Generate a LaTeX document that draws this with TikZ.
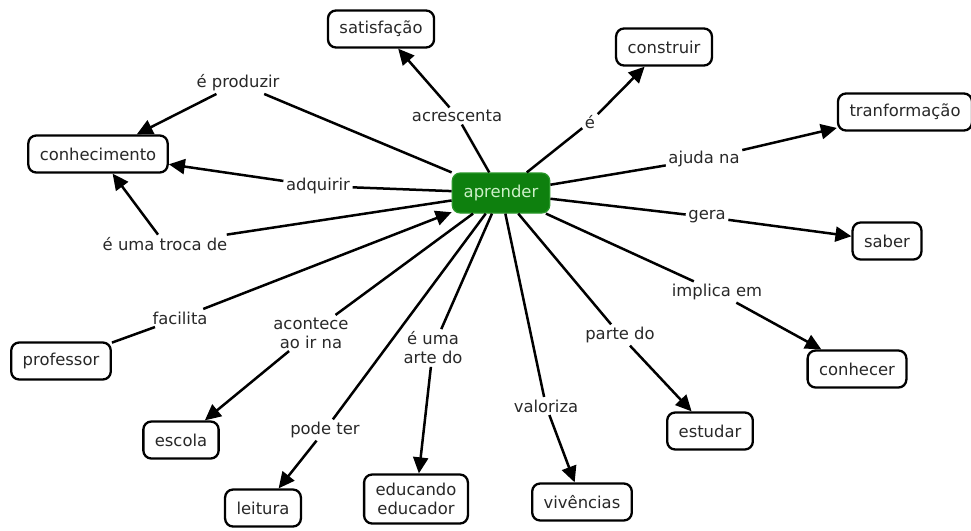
\documentclass[tikz,border=0pt]{standalone}
\usepackage{fontspec}
\setmainfont{DejaVu Sans}
\usepackage{xcolor}
\usepackage{tikz}
\usetikzlibrary{arrows.meta}

\definecolor{inkgray}{RGB}{40,40,40}
\definecolor{mapgreen}{RGB}{14,128,14}
\definecolor{mapgreenline}{RGB}{40,150,40}
\definecolor{maptext}{RGB}{205,240,200}

\begin{document}
\begin{tikzpicture}[
    x=1pt, y=-1pt,
    >={Triangle[length=16pt,width=15pt]},
    every node/.style={font=\fontsize{16.4}{19}\selectfont, text=inkgray},
    concept/.style={draw=black, line width=2.3pt, rounded corners=8pt,
        fill=white, inner xsep=11.5pt, minimum height=37pt, align=center},
    focus/.style={concept, draw=mapgreenline, fill=mapgreen, text=maptext,
        minimum height=40pt, line width=1.2pt},
    link/.style={inner sep=2.5pt, align=center},
    conn/.style={line width=2.5pt}
]
\useasboundingbox (0,0) rectangle (971,530);

% Central concept
\node[focus] (aprender) at (501,193) {aprender};

% Concepts
\node[concept] (satisfacao)   at (381,29)  {satisfação};
\node[concept] (construir)    at (664,47)  {construir};
\node[concept] (tranformacao) at (905,112) {tranformação};
\node[concept] (conhecimento) at (98,154)  {conhecimento};
\node[concept] (saber)        at (887,241) {saber};
\node[concept] (professor)    at (61,361)  {professor};
\node[concept] (conhecer)     at (857,369) {conhecer};
\node[concept] (escola)       at (181,440) {escola};
\node[concept] (estudar)      at (710,431) {estudar};
\node[concept] (leitura)      at (263,508) {leitura};
\node[concept, minimum height=49pt] (educando) at (416,499) {educando\\educador};
\node[concept] (vivencias)    at (582,502) {vivências};

% Linking phrases
\node[link] (produzir)  at (238,83)  {é produzir};
\node[link] (acresc)    at (457,116) {acrescenta};
\node[link] (ee)        at (590,122) {é};
\node[link] (ajuda)     at (704,159) {ajuda na};
\node[link] (adquirir)  at (318,186) {adquirir};
\node[link] (gera)      at (707,217) {gera};
\node[link] (troca)     at (165,244) {é uma troca de};
\node[link] (implica)   at (717,292) {implica em};
\node[link] (facilita)  at (180,318) {facilita};
\node[link] (acontece)  at (311,333) {acontece\\ao ir na};
\node[link] (arte)      at (433,348) {é uma\\arte do};
\node[link] (parte)     at (620,335) {parte do};
\node[link] (valoriza)  at (546,406) {valoriza};
\node[link] (podeter)   at (325,430) {pode ter};

% Connections
\draw[conn] (aprender) -- (produzir);
\draw[conn,->] (produzir) -- (conhecimento);
\draw[conn] (aprender) -- (acresc);
\draw[conn,->] (acresc) -- (satisfacao);
\draw[conn] (aprender) -- (ee);
\draw[conn,->] (ee) -- (construir);
\draw[conn] (aprender) -- (ajuda);
\draw[conn,->] (ajuda) -- (tranformacao);
\draw[conn] (aprender) -- (adquirir);
\draw[conn,->] (adquirir) -- (conhecimento);
\draw[conn] (aprender) -- (gera);
\draw[conn,->] (gera) -- (saber);
\draw[conn] (aprender) -- (troca);
\draw[conn,->] (troca) -- (conhecimento);
\draw[conn] (aprender) -- (implica);
\draw[conn,->] (implica) -- (conhecer);
\draw[conn] (professor) -- (facilita);
\draw[conn,->] (facilita) -- (aprender);
\draw[conn] (aprender) -- (acontece);
\draw[conn,->] (acontece) -- (escola);
\draw[conn] (aprender) -- (arte);
\draw[conn,->] (arte) -- (educando);
\draw[conn] (aprender) -- (parte);
\draw[conn,->] (parte) -- (estudar);
\draw[conn] (aprender) -- (valoriza);
\draw[conn,->] (valoriza) -- (vivencias);
\draw[conn] (aprender) -- (podeter);
\draw[conn,->] (podeter) -- (leitura);

\end{tikzpicture}
\end{document}
